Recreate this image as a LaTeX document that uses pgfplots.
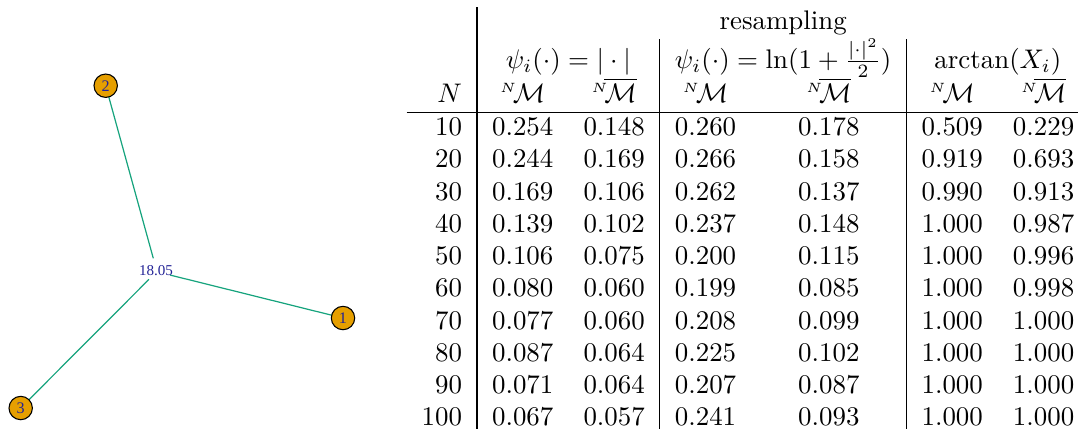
\documentclass[border=0pt]{standalone}
\usepackage{fontspec}
\usepackage{pgfplots}
\pgfplotsset{compat=1.18}
\newfontfamily\graphfont{Liberation Serif}
\definecolor{edgecol}{RGB}{22,163,125}
\definecolor{nodecol}{RGB}{230,159,0}
\definecolor{labcol}{RGB}{35,35,150}
\newcommand{\NM}{{}^{\scriptscriptstyle N}\!\mathcal{M}}
\newcommand{\NMbar}{{}^{\scriptscriptstyle N}\!\overline{\mathcal{M}}}

\begin{document}
\begin{tikzpicture}
% whole picture in pixel units of the reference (1078 x 428), y downwards
\begin{axis}[
  scale only axis,
  width=400.74pt, height=159.11pt,
  xmin=0, xmax=1078, ymin=0, ymax=428,
  y dir=reverse,
  axis lines=none,
  clip=false,
]
  % edges to the hub
  \addplot[edgecol, line width=0.45pt] coordinates {(105.7,85.7) (153.3,258.3)};
  \addplot[edgecol, line width=0.45pt] coordinates {(170,275) (343,318)};
  \addplot[edgecol, line width=0.45pt] coordinates {(149,279.3) (20.7,408)};
  % hub label
  \addplot[draw=none, mark=none, nodes near coords, point meta=explicit symbolic,
    every node near coord/.append style={anchor=center, inner sep=0pt,
      font=\graphfont\fontsize{5.6}{6}\selectfont, text=labcol}]
    coordinates {(156,270.5)[18.05]};
  % vertices
  \addplot[only marks, mark=*, mark size=4.35pt,
    mark options={fill=nodecol, draw=black, line width=0.4pt},
    nodes near coords, point meta=explicit symbolic,
    every node near coord/.append style={anchor=center, inner sep=0pt,
      font=\graphfont\fontsize{6}{7}\selectfont, text=labcol}]
    coordinates {(343,318)[1] (105.7,85.7)[2] (20.7,408)[3]};
\end{axis}
\node[anchor=north west, inner sep=0pt] at (406/2.69*1pt, 159.11pt-6/2.69*1pt) {%
\setlength{\tabcolsep}{5.6pt}%
\begin{tabular}{r|cc|cc|cc}
 & \multicolumn{6}{c}{resampling}\\
 & \multicolumn{2}{c|}{$\psi_i(\cdot)=|\cdot|$}
 & \multicolumn{2}{c|}{$\psi_i(\cdot)=\ln(1+\frac{|\cdot|^2}{2})$}
 & \multicolumn{2}{c}{$\arctan(X_i)$}\\
$N$ & $\NM$ & $\NMbar$ & $\NM$ & $\NMbar$ & $\NM$ & $\NMbar$\\
\hline
10 & 0.254 & 0.148 & 0.260 & 0.178 & 0.509 & 0.229\\
20 & 0.244 & 0.169 & 0.266 & 0.158 & 0.919 & 0.693\\
30 & 0.169 & 0.106 & 0.262 & 0.137 & 0.990 & 0.913\\
40 & 0.139 & 0.102 & 0.237 & 0.148 & 1.000 & 0.987\\
50 & 0.106 & 0.075 & 0.200 & 0.115 & 1.000 & 0.996\\
60 & 0.080 & 0.060 & 0.199 & 0.085 & 1.000 & 0.998\\
70 & 0.077 & 0.060 & 0.208 & 0.099 & 1.000 & 1.000\\
80 & 0.087 & 0.064 & 0.225 & 0.102 & 1.000 & 1.000\\
90 & 0.071 & 0.064 & 0.207 & 0.087 & 1.000 & 1.000\\
100 & 0.067 & 0.057 & 0.241 & 0.093 & 1.000 & 1.000\\
\end{tabular}};
\pgfresetboundingbox
\useasboundingbox (0,0) rectangle (400.74pt,159.11pt);
\end{tikzpicture}
\end{document}
